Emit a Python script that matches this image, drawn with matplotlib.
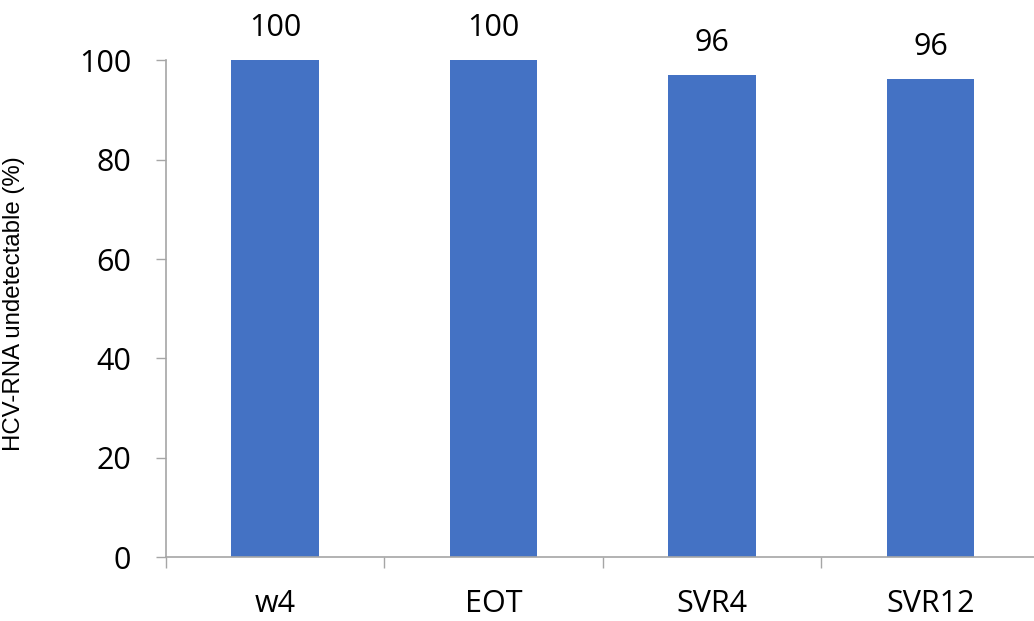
import matplotlib
matplotlib.use("Agg")
import matplotlib.pyplot as plt
import numpy as np

categories = ["w4", "EOT", "SVR4", "SVR12"]
values = [100, 100, 97, 96.2]
labels = ["100", "100", "96", "96"]

bar_color = "#4472C4"
axis_color = "#A6A6A6"
tick_font = "Open Sans"

fig = plt.figure(figsize=(10.34, 6.21), dpi=100)
ax = fig.add_axes([0.1603, 0.1026, 0.8455, 0.8003])

x = np.arange(len(categories))
ax.bar(x, values, width=0.4, color=bar_color, zorder=2)

for xi, v, lab in zip(x, values, labels):
    ax.annotate(lab, (xi, v), xytext=(0, 23), textcoords="offset points",
                ha="center", va="center", fontsize=22, family=tick_font)

ax.set_xlim(-0.5, len(categories) - 0.5)
ax.set_ylim(0, 100)

# category boundaries as major ticks, names on minor ticks at the centres
ax.set_xticks(np.arange(-0.5, len(categories), 1.0))
ax.set_xticklabels([])
ax.set_xticks(x, minor=True)
ax.set_xticklabels(categories, minor=True, fontsize=22, family=tick_font)
ax.tick_params(axis="x", which="major", direction="out", length=8,
               width=1, color=axis_color)
ax.tick_params(axis="x", which="minor", length=0, pad=23)

ax.set_yticks([0, 20, 40, 60, 80, 100])
ax.set_yticklabels(["0", "20", "40", "60", "80", "100"], fontsize=22,
                   family=tick_font)
ax.tick_params(axis="y", direction="out", length=7, width=1,
               color=axis_color, pad=18)

for side in ["top", "right"]:
    ax.spines[side].set_visible(False)
for side in ["left", "bottom"]:
    ax.spines[side].set_color(axis_color)
    ax.spines[side].set_linewidth(1.2)

ax.set_ylabel("HCV-RNA undetectable (%)", fontsize=17.3, family="Liberation Sans")
ax.yaxis.set_label_coords(-0.161, 0.51)

fig.savefig("out.png", dpi=100)
